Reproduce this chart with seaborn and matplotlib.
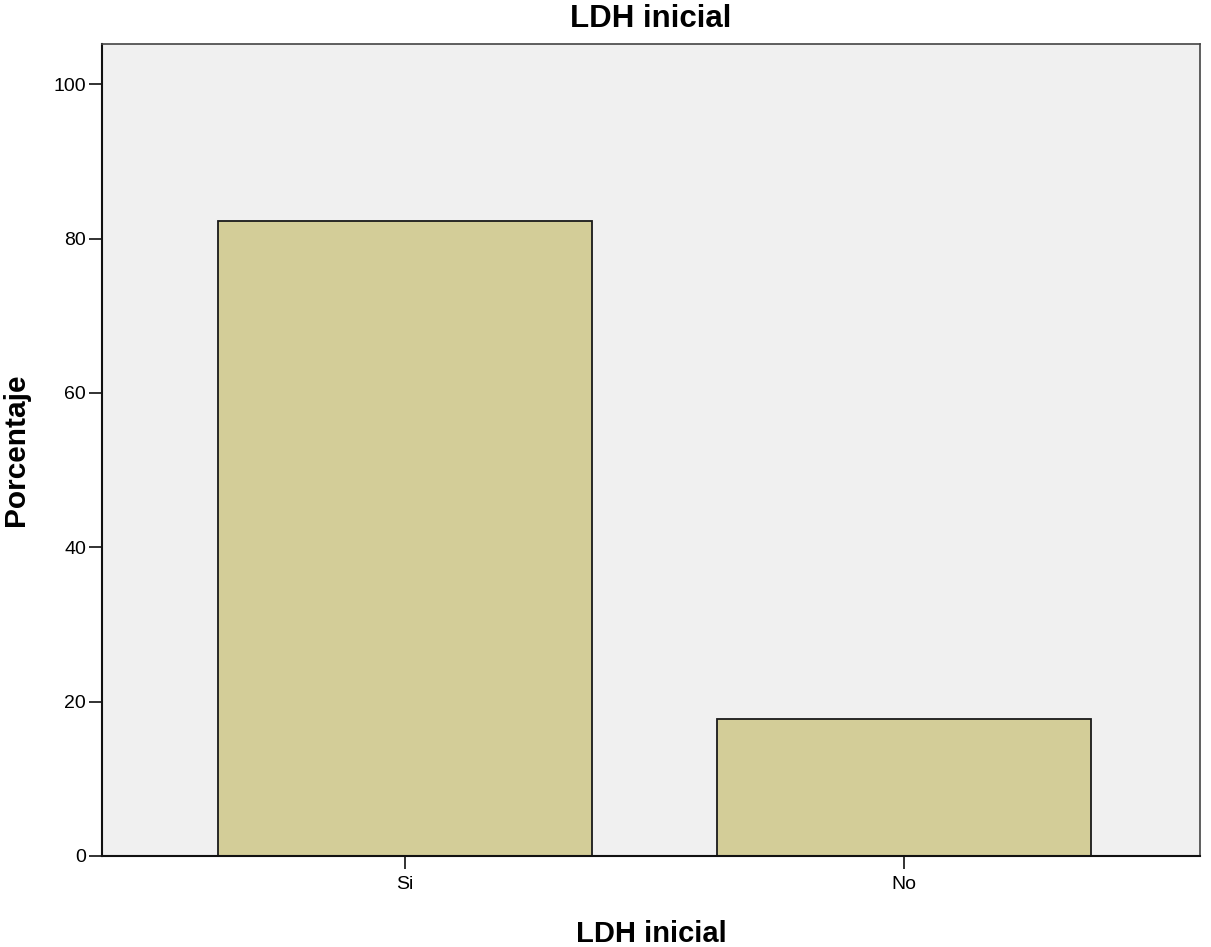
import matplotlib
matplotlib.use('Agg')
import matplotlib.pyplot as plt
import seaborn as sns
import pandas as pd

categories = ['Si', 'No']
percentages = [82.3, 17.7]

sns.set_style("white")
plt.rcParams['font.family'] = ['Liberation Sans', 'DejaVu Sans']
plt.rcParams['text.color'] = 'black'
plt.rcParams['axes.labelcolor'] = 'black'
plt.rcParams['xtick.color'] = 'black'
plt.rcParams['ytick.color'] = 'black'

df = pd.DataFrame({'LDH inicial': categories, 'Porcentaje': percentages})

fig = plt.figure(figsize=(12.11, 9.47), dpi=100)
ax = fig.add_axes([0.0842, 0.0961, 0.9068, 0.8574])
ax.set_facecolor('#f0f0f0')

sns.barplot(data=df, x='LDH inicial', y='Porcentaje', order=categories,
            color='#d3cd98', saturation=1, width=0.75,
            edgecolor='#1a1a1a', linewidth=1.3, ax=ax)

ax.set_xlim(-0.608, 1.594)
ax.set_ylim(0, 105.2)
ax.set_yticks([0, 20, 40, 60, 80, 100])

for side in ['left', 'bottom']:
    ax.spines[side].set_color('#111111')
    ax.spines[side].set_linewidth(1.5)
for side in ['top', 'right']:
    ax.spines[side].set_color('#444444')
    ax.spines[side].set_linewidth(1.2)

ax.tick_params(axis='both', direction='out', length=9.5, width=1.3,
               color='#222222', labelsize=14, pad=2, left=True, bottom=True)
ax.tick_params(axis='x', pad=5)

ax.set_xlabel('LDH inicial', fontsize=21, fontweight='bold', labelpad=19)
ax.set_ylabel('Porcentaje', fontsize=21.5, fontweight='bold', labelpad=17)
ax.set_title('LDH inicial', fontsize=22.5, fontweight='bold', pad=12)

plt.savefig('out.png', dpi=100)
plt.close()
